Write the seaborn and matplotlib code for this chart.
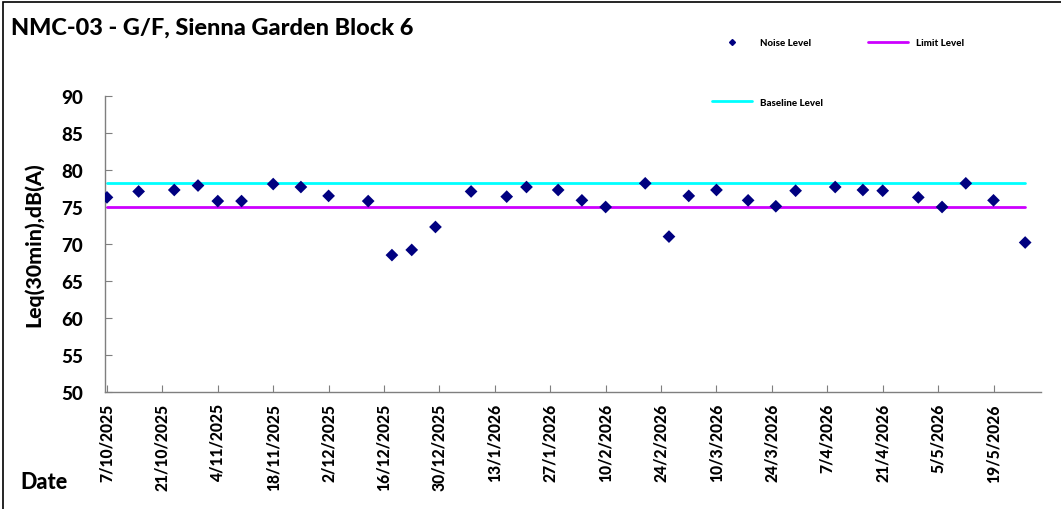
import matplotlib
matplotlib.use("Agg")
import matplotlib.pyplot as plt
import matplotlib.dates as mdates
from matplotlib.lines import Line2D
from matplotlib.ticker import FuncFormatter
import seaborn as sns
import pandas as pd

# ---- data ----
dates = ["2025-10-07", "2025-10-15", "2025-10-24", "2025-10-30", "2025-11-04",
         "2025-11-10", "2025-11-18", "2025-11-25", "2025-12-02", "2025-12-12",
         "2025-12-18", "2025-12-23", "2025-12-29", "2026-01-07", "2026-01-16",
         "2026-01-21", "2026-01-29", "2026-02-04", "2026-02-10", "2026-02-20",
         "2026-02-26", "2026-03-03", "2026-03-10", "2026-03-18", "2026-03-25",
         "2026-03-30", "2026-04-09", "2026-04-16", "2026-04-21", "2026-04-30",
         "2026-05-06", "2026-05-12", "2026-05-19", "2026-05-27"]
noise = [76.3, 77.1, 77.3, 77.9, 75.8, 75.8, 78.1, 77.7, 76.5, 75.8,
         68.5, 69.2, 72.3, 77.1, 76.4, 77.7, 77.3, 75.9, 75.0, 78.2,
         71.0, 76.5, 77.3, 75.9, 75.1, 77.2, 77.7, 77.3, 77.2, 76.3,
         75.0, 78.2, 75.9, 70.2]
limit_level = 75.0
baseline_level = 78.2
yticks = [50, 55, 60, 65, 70, 75, 80, 85, 90]
tick_start = "2025-10-07"
title = "NMC-03 - G/F, Sienna Garden Block 6"

df = pd.DataFrame({"Date": pd.to_datetime(dates), "Noise": noise})
df["Limit"] = limit_level
df["Baseline"] = baseline_level

sns.set_theme(style="white")
plt.rcParams["font.family"] = ["Lato", "DejaVu Sans"]
plt.rcParams["font.weight"] = "black"
plt.rcParams["text.color"] = "black"
plt.rcParams["xtick.color"] = "black"
plt.rcParams["ytick.color"] = "black"
FW = "black"

W, H = 1061, 510
fig = plt.figure(figsize=(W / 100, H / 100), dpi=100)
ax = fig.add_axes([105 / W, 1 - 393 / H, (1041 - 105) / W, (393 - 97) / H])

sns.lineplot(data=df, x="Date", y="Baseline", ax=ax, color="#00FFFF", lw=2, legend=False)
sns.lineplot(data=df, x="Date", y="Limit", ax=ax, color="#CC00FF", lw=2, legend=False)
sns.scatterplot(data=df, x="Date", y="Noise", ax=ax, marker="D", s=42,
                color="#000080", edgecolor="none", legend=False, zorder=5)

start = pd.Timestamp(tick_start)
ax.set_xlim(start - pd.Timedelta(hours=12), pd.Timestamp("2026-05-31"))
ax.set_ylim(50, 90)
xt = pd.date_range(start, periods=17, freq="14D")
ax.set_xticks(xt)
ax.xaxis.set_major_formatter(FuncFormatter(
    lambda v, p: (lambda d: f"{d.day}/{d.month}/{d.year}")(mdates.num2date(v))))
ax.set_yticks(yticks)

for s in ["top", "right"]:
    ax.spines[s].set_visible(False)
for s in ["left", "bottom"]:
    ax.spines[s].set_color("#7f7f7f")
    ax.spines[s].set_linewidth(1.0)

ax.tick_params(axis="x", direction="in", length=5, width=0.8, color="#7f7f7f",
               labelcolor="black", labelsize=11.3, rotation=90, pad=8, bottom=True)
ax.tick_params(axis="y", direction="in", length=5, width=0.8, color="#7f7f7f",
               labelcolor="black", labelsize=13.5, pad=16, left=True)
for lab in ax.get_xticklabels() + ax.get_yticklabels():
    lab.set_fontweight(FW)

ax.set_xlabel("")
ax.set_ylabel("Leq(30min),dB(A)", fontsize=15.3, fontweight=FW, color="black", va="center")
ax.yaxis.set_label_coords((33 - 105) / (1041 - 105), 0.5)

fig.text(11 / W, 1 - 28 / H, title, fontsize=16.9, fontweight=FW, ha="left", va="center",
         color="black")
fig.text(20 / W, 1 - 483 / H, "Date", fontsize=15.5, fontweight=FW, ha="left", va="center",
         color="black")

handles = [
    Line2D([], [], marker="D", markersize=3, color="#000080", linestyle="none"),
    Line2D([], [], color="#00FFFF", lw=2),
    Line2D([], [], color="#CC00FF", lw=2),
]
labels = ["Noise Level", "Baseline Level", "Limit Level"]
fig.legend(handles, labels, ncol=2, loc="upper left",
           bbox_to_anchor=(712 / W, 1 - 39 / H), frameon=False,
           prop={"size": 7, "weight": FW}, handlelength=4.1,
           handletextpad=0.85, columnspacing=4.6, labelspacing=5.2,
           borderpad=0, borderaxespad=0)

# outer chart border (left and top visible)
fig.add_artist(plt.Rectangle((3 / W, -0.1), 1.2, 1 - 3 / H + 0.1, transform=fig.transFigure,
                             fill=False, edgecolor="black", lw=1.2))

fig.savefig("out.png", dpi=100)
